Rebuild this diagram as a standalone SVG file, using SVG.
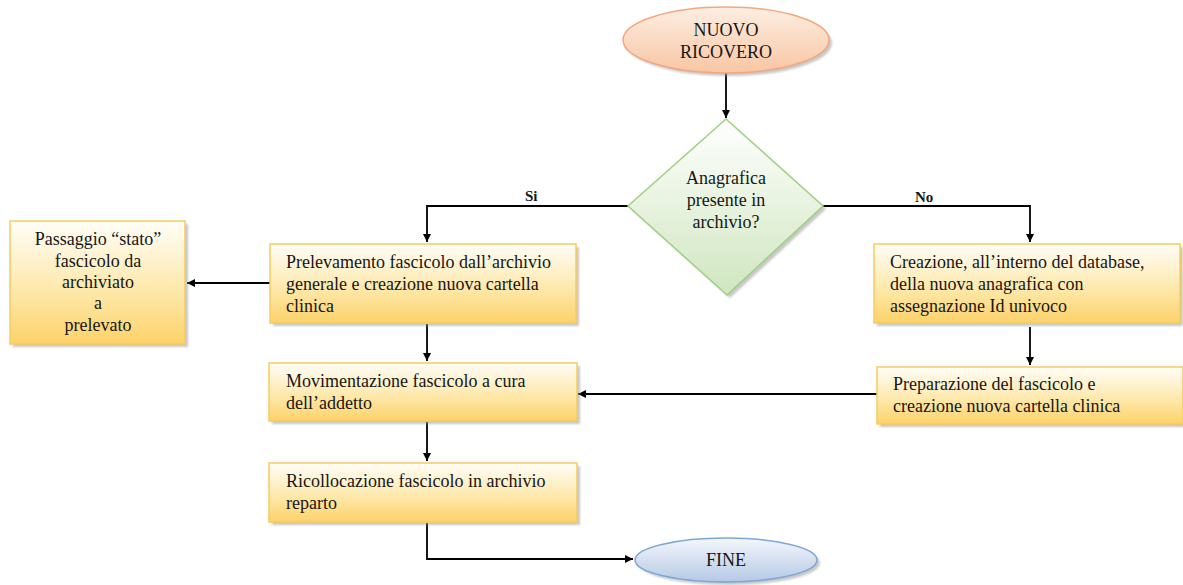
<svg xmlns="http://www.w3.org/2000/svg" width="1183" height="585" viewBox="0 0 1183 585">
  <style>
    text { font-family: "Liberation Serif", "DejaVu Serif", serif; font-size: 18px; fill: #161616; }
    .c { text-anchor: middle; }
    .b { font-weight: bold; font-size: 15px; }
    .box { fill: url(#gYellow); stroke: #f7cc5c; stroke-width: 1.5; }
    .shadow { fill: #9a9a9a; opacity: 0.55; }
    .wire { fill: none; stroke: #000; stroke-width: 1.8; }
  </style>
  <defs>
    <linearGradient id="gYellow" x1="0" y1="0" x2="0" y2="1">
      <stop offset="0" stop-color="#fffdf7"/>
      <stop offset="0.55" stop-color="#fee9ad"/>
      <stop offset="1" stop-color="#fdd26a"/>
    </linearGradient>
    <linearGradient id="gOrange" x1="0" y1="0" x2="0" y2="1">
      <stop offset="0" stop-color="#fdeee2"/>
      <stop offset="1" stop-color="#f9c6a3"/>
    </linearGradient>
    <linearGradient id="gGreen" x1="0" y1="0" x2="0" y2="1">
      <stop offset="0" stop-color="#ffffff"/>
      <stop offset="1" stop-color="#cfe6bf"/>
    </linearGradient>
    <linearGradient id="gBlue" x1="0" y1="0" x2="0" y2="1">
      <stop offset="0" stop-color="#f4f7fc"/>
      <stop offset="1" stop-color="#b5c9e6"/>
    </linearGradient>
    <filter id="soft" x="-10%" y="-10%" width="130%" height="130%">
      <feGaussianBlur stdDeviation="1.2"/>
    </filter>
    <marker id="arrow" viewBox="0 0 10 10" refX="10" refY="5" markerWidth="8" markerHeight="8" markerUnits="userSpaceOnUse" orient="auto">
      <path d="M0,0 L10,5 L0,10 z" fill="#000"/>
    </marker>
  </defs>

  <!-- connectors -->
  <g id="connectors">
    <path class="wire" d="M726,73 V118" marker-end="url(#arrow)"/>
    <path class="wire" d="M628,206 H427 V242" marker-end="url(#arrow)"/>
    <path class="wire" d="M823,206 H1030 V242" marker-end="url(#arrow)"/>
    <path class="wire" d="M270,283 H187" marker-end="url(#arrow)"/>
    <path class="wire" d="M427,324 V361" marker-end="url(#arrow)"/>
    <path class="wire" d="M1030,327 V365" marker-end="url(#arrow)"/>
    <path class="wire" d="M877,394 H578" marker-end="url(#arrow)"/>
    <path class="wire" d="M427,422 V461" marker-end="url(#arrow)"/>
    <path class="wire" d="M427,523 V559 H633" marker-end="url(#arrow)"/>
    <text class="b" x="525" y="201">Si</text>
    <text class="b" x="915" y="202">No</text>
  </g>

  <!-- start -->
  <g id="start">
    <ellipse cx="729" cy="43" rx="103" ry="33" class="shadow" filter="url(#soft)"/>
    <ellipse cx="726" cy="40" rx="103" ry="33" fill="url(#gOrange)" stroke="#f3a77c" stroke-width="1.5"/>
    <text class="c" x="726" y="36">NUOVO</text>
    <text class="c" x="726" y="58">RICOVERO</text>
  </g>

  <!-- decision -->
  <g id="decision">
    <polygon points="729,122 826,209 730,298 631,209" class="shadow" filter="url(#soft)"/>
    <polygon points="726,119 823,206 727,295 628,206" fill="url(#gGreen)" stroke="#9fd084" stroke-width="1.5"/>
    <text class="c" x="726" y="184">Anagrafica</text>
    <text class="c" x="726" y="206">presente in</text>
    <text class="c" x="726" y="228">archivio?</text>
  </g>

  <!-- status change -->
  <g id="stato">
    <rect x="13" y="224" width="175" height="123" class="shadow" filter="url(#soft)"/>
    <rect x="10" y="221" width="175" height="123" class="box"/>
    <text class="c" x="98" y="245">Passaggio “stato”</text>
    <text class="c" x="98" y="267">fascicolo da</text>
    <text class="c" x="98" y="288">archiviato</text>
    <text class="c" x="98" y="309">a</text>
    <text class="c" x="98" y="331">prelevato</text>
  </g>

  <!-- withdrawal -->
  <g id="prelevamento">
    <rect x="273" y="247" width="306" height="79" class="shadow" filter="url(#soft)"/>
    <rect x="270" y="244" width="306" height="79" class="box"/>
    <text x="286" y="268">Prelevamento fascicolo dall’archivio</text>
    <text x="286" y="290">generale e creazione nuova cartella</text>
    <text x="286" y="312">clinica</text>
  </g>

  <!-- new record -->
  <g id="creazione">
    <rect x="877" y="247" width="306" height="79" class="shadow" filter="url(#soft)"/>
    <rect x="874" y="244" width="306" height="79" class="box"/>
    <text x="890" y="268">Creazione, all’interno del database,</text>
    <text x="890" y="290">della nuova anagrafica con</text>
    <text x="890" y="312">assegnazione Id univoco</text>
  </g>

  <!-- preparation -->
  <g id="preparazione">
    <rect x="880" y="370" width="306" height="57" class="shadow" filter="url(#soft)"/>
    <rect x="877" y="367" width="306" height="57" class="box"/>
    <text x="893" y="390">Preparazione del fascicolo e</text>
    <text x="893" y="412">creazione nuova cartella clinica</text>
  </g>

  <!-- handling -->
  <g id="movimentazione">
    <rect x="272" y="366" width="308" height="58" class="shadow" filter="url(#soft)"/>
    <rect x="269" y="363" width="308" height="58" class="box"/>
    <text x="286" y="387">Movimentazione fascicolo a cura</text>
    <text x="286" y="409">dell’addetto</text>
  </g>

  <!-- relocation -->
  <g id="ricollocazione">
    <rect x="272" y="466" width="308" height="59" class="shadow" filter="url(#soft)"/>
    <rect x="269" y="463" width="308" height="59" class="box"/>
    <text x="286" y="487">Ricollocazione fascicolo in archivio</text>
    <text x="286" y="509">reparto</text>
  </g>

  <!-- end -->
  <g id="end">
    <ellipse cx="729" cy="563" rx="91" ry="22" class="shadow" filter="url(#soft)"/>
    <ellipse cx="726" cy="560" rx="91" ry="22" fill="url(#gBlue)" stroke="#7ea6d6" stroke-width="1.5"/>
    <text class="c" x="726" y="566">FINE</text>
  </g>
</svg>
